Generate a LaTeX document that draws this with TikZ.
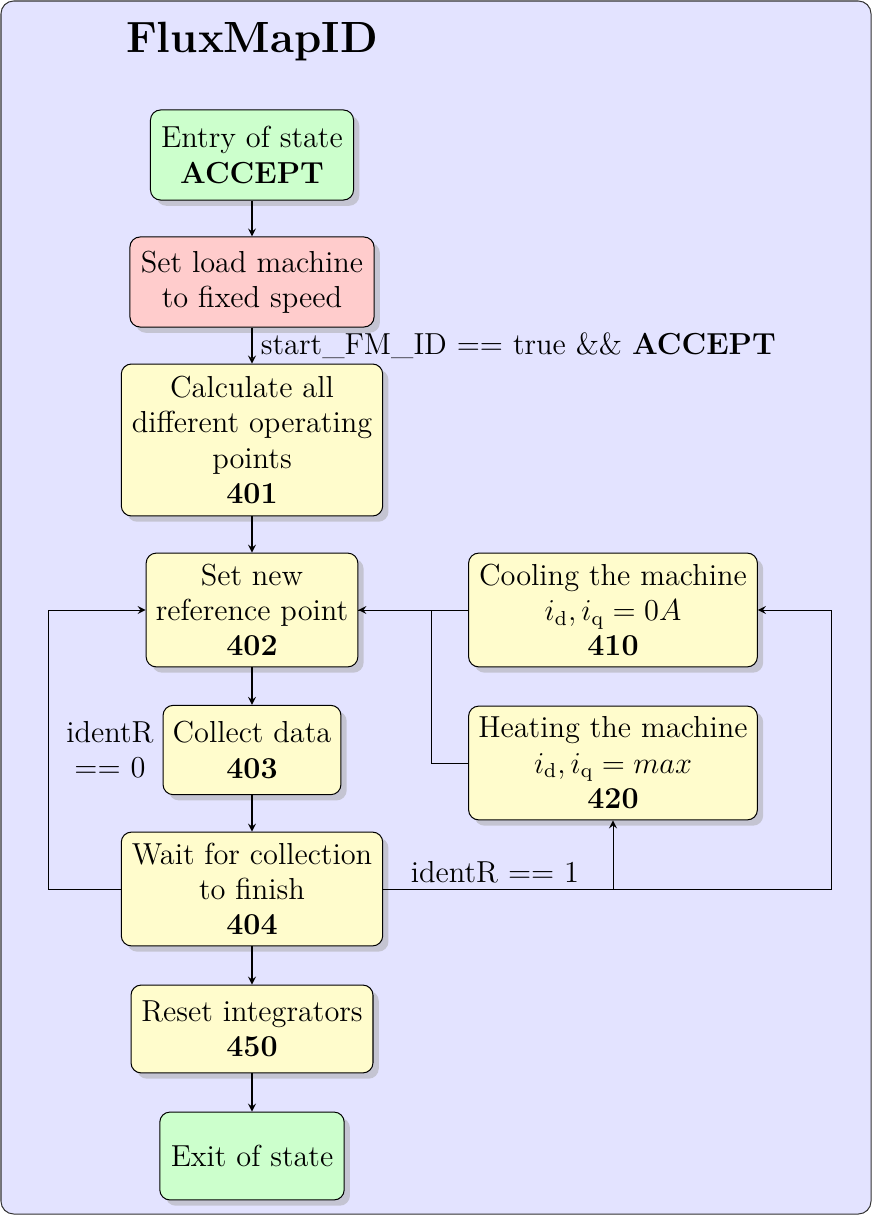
\documentclass[tikz,border=0pt]{standalone}
\usepackage{amsmath}
\usetikzlibrary{positioning,shapes.geometric,arrows,shadows}
\definecolor{bgblue}{RGB}{227,227,255}
\tikzstyle{base} = [rectangle, rounded corners, draw=black, align=center, font=\large, drop shadow={fill=black!35, shadow xshift=0.08cm, shadow yshift=-0.08cm}]
\tikzstyle{startstop} = [base, fill=green!20]
\tikzstyle{init} = [base, fill=red!20]
\tikzstyle{process} = [base, fill=yellow!20]
\tikzstyle{arrow} = [->,>=stealth]

\begin{document}
\begin{tikzpicture}[x=0.013889cm, y=-0.013889cm]
	\draw [rounded corners=5pt, fill=bgblue, draw=black!80] (1,1) rectangle (871,1214);
	\useasboundingbox (0,0) rectangle (872,1215);
	\node (title) at (252,42) {\LARGE\bfseries FluxMapID};

	\node (entry) [startstop, minimum width=2.82cm, minimum height=1.25cm] at (252,155) {Entry of state\\ \textbf{ACCEPT}};
	\node (load) [init, minimum width=3.39cm, minimum height=1.25cm] at (252,282) {Set load machine\\to fixed speed};
	\node (calc) [process, minimum width=3.63cm, minimum height=2.11cm] at (252,440) {Calculate all\\different operating\\points\\ \textbf{401}};
	\node (setref) [process, minimum width=2.94cm, minimum height=1.58cm] at (252,610) {Set new\\reference point\\ \textbf{402}};
	\node (collect) [process, minimum width=2.47cm, minimum height=1.24cm] at (252,750) {Collect data\\ \textbf{403}};
	\node (wait) [process, minimum width=3.63cm, minimum height=1.58cm] at (252,889) {Wait for collection\\to finish\\ \textbf{404}};
	\node (reset) [process, minimum width=3.36cm, minimum height=1.22cm] at (252,1029) {Reset integrators\\ \textbf{450}};
	\node (exit) [startstop, minimum width=2.56cm, minimum height=1.22cm] at (252,1156) {Exit of state};
	\node (cool) [process, minimum width=4.01cm, minimum height=1.58cm] at (613,610) {Cooling the machine\\$i_\mathrm{d}, i_\mathrm{q} = 0A$\\ \textbf{410}};
	\node (heat) [process, minimum width=4.01cm, minimum height=1.58cm] at (613,763) {Heating the machine\\$i_\mathrm{d}, i_\mathrm{q} = max$\\ \textbf{420}};

	\draw [arrow] (entry) -- (load);
	\draw [arrow] (load) -- node[anchor=west, font=\large] {start\_FM\_ID == true \&\& \textbf{ACCEPT}} (calc);
	\draw [arrow] (calc) -- (setref);
	\draw [arrow] (setref) -- (collect);
	\draw [arrow] (collect) -- (wait);
	\draw [arrow] (wait) -- (reset);
	\draw [arrow] (reset) -- (exit);

	\draw [arrow] (wait.west) -- ++(-72,0) |- (setref.west);
	\node [align=center, font=\large] at (110,750) {identR\\== 0};
	\draw [arrow] (wait.east) -| (heat.south);
	\draw [arrow] (wait.east) -- ++(448,0) |- (cool.east);
	\node [font=\large] at (495,872) {identR == 1};
	\draw [arrow] (cool.west) -- (setref.east);
	\draw (heat.west) -- ++(-37,0) |- (setref.east);
\end{tikzpicture}
\end{document}
